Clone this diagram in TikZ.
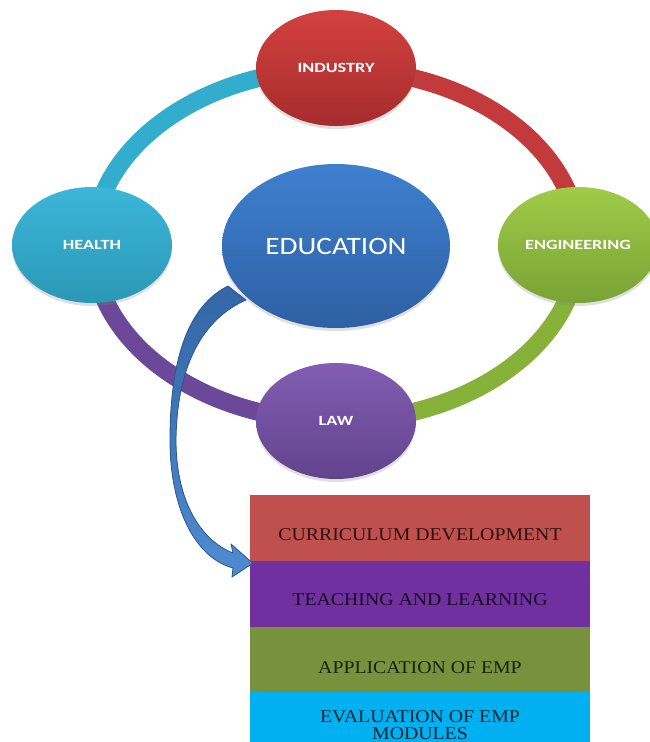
\documentclass[tikz,border=0pt]{standalone}
\usepackage{fontspec}
\usepackage{graphicx}
\setmainfont{Liberation Serif}
\newfontfamily\calfont{Carlito}
\usetikzlibrary{shapes.geometric,shadows}
\definecolor{indT}{HTML}{D3413F}\definecolor{indB}{HTML}{A62C2D}
\definecolor{heaT}{HTML}{3CB6D8}\definecolor{heaB}{HTML}{2A98B6}
\definecolor{eduT}{HTML}{3E80CF}\definecolor{eduB}{HTML}{2E60A4}
\definecolor{engT}{HTML}{9FCB48}\definecolor{engB}{HTML}{79A334}
\definecolor{lawT}{HTML}{825DB2}\definecolor{lawB}{HTML}{62438C}
\definecolor{rCyan}{HTML}{33ADCE}\definecolor{rRed}{HTML}{C23A3C}
\definecolor{rGreen}{HTML}{86B23A}\definecolor{rPurple}{HTML}{6C4898}
\definecolor{arrT}{HTML}{3366A6}\definecolor{arrB}{HTML}{4E8BD0}\definecolor{arrL}{HTML}{2B5689}
\definecolor{b1}{HTML}{C0504D}\definecolor{b2}{HTML}{7030A0}
\definecolor{b3}{HTML}{76923C}\definecolor{b4}{HTML}{00B0F0}
\newcommand\hwide[1]{\scalebox{1.3}[1]{#1}}
\newcommand\bwide[1]{\scalebox{1.1}[1]{#1}}
\begin{document}
\begin{tikzpicture}[x=1pt,y=-1pt,
  hub/.style={ellipse, inner sep=0pt, minimum width=160pt, minimum height=116pt,
    text=white, font=\calfont\bfseries\fontsize{14}{14}\selectfont,
    drop shadow={opacity=0.25, shadow xshift=0pt, shadow yshift=-3pt}},
  ringseg/.style={line width=18pt},
  stage/.style={rectangle, inner sep=0pt, minimum width=340pt, minimum height=66pt},
  btext/.style={font=\fontsize{18}{16.5}\selectfont, text=black, text opacity=0.78,
    align=center, inner sep=0pt, yshift=-7pt}]
\useasboundingbox (0,0) rectangle (649,742);
\fill[white] (0,0) rectangle (649,742);
% ring
\coordinate (c) at (336,245);
\draw[ringseg, rCyan] (c) ++(180:243 and 176) arc[start angle=180, end angle=270, x radius=243, y radius=176];
\draw[ringseg, rRed] (c) ++(270:243 and 176) arc[start angle=270, end angle=360, x radius=243, y radius=176];
\draw[ringseg, rGreen] (c) ++(0:243 and 176) arc[start angle=0, end angle=90, x radius=243, y radius=176];
\draw[ringseg, rPurple] (c) ++(90:243 and 176) arc[start angle=90, end angle=180, x radius=243, y radius=176];
% stages
\node[stage, fill=b1, label={[btext]center:\bwide{CURRICULUM DEVELOPMENT}}] (cd) at (420,528) {};
\node[stage, fill=b2, label={[btext, yshift=1pt]center:\bwide{TEACHING AND LEARNING}}] (tl) at (420,594) {};
\node[stage, fill=b3, minimum height=65pt, label={[btext, yshift=-1pt]center:\bwide{APPLICATION OF EMP}}] (ap) at (420,659.5) {};
\node[stage, fill=b4, label={[btext, yshift=7pt]center:\bwide{EVALUATION OF EMP}\\\bwide{MODULES}}] (ev) at (420,725) {};
% arrow
\coordinate (tip) at ([xshift=3pt,yshift=-2pt]cd.south west);
\path[top color=arrT, bottom color=arrB, draw=arrL, line width=0.8pt, line join=round]
  (228,286) .. controls (190,305) and (170,355) .. (170,440)
  .. controls (170,510) and (196,558) .. (233,568) -- (232,577) -- (tip) -- (231,544) -- (233,553)
  .. controls (200,540) and (176,500) .. (176,440)
  .. controls (177,362) and (205,318) .. (246,300) -- cycle;
% hubs
\node[hub, top color=indT, bottom color=indB] (ind) at (336,68) {\hwide{INDUSTRY}};
\node[hub, top color=heaT, bottom color=heaB] (hea) at (92,245) {\hwide{HEALTH}};
\node[hub, top color=engT, bottom color=engB] (eng) at (578,245) {\hwide{ENGINEERING}};
\node[hub, top color=lawT, bottom color=lawB] (law) at (336,421) {\hwide{LAW}};
\node[hub, top color=eduT, bottom color=eduB, minimum width=228pt, minimum height=164pt,
  font=\calfont\fontsize{25}{25}\selectfont] (edu) at (336,246) {\scalebox{1.17}[1]{EDUCATION}};
\end{tikzpicture}
\end{document}
